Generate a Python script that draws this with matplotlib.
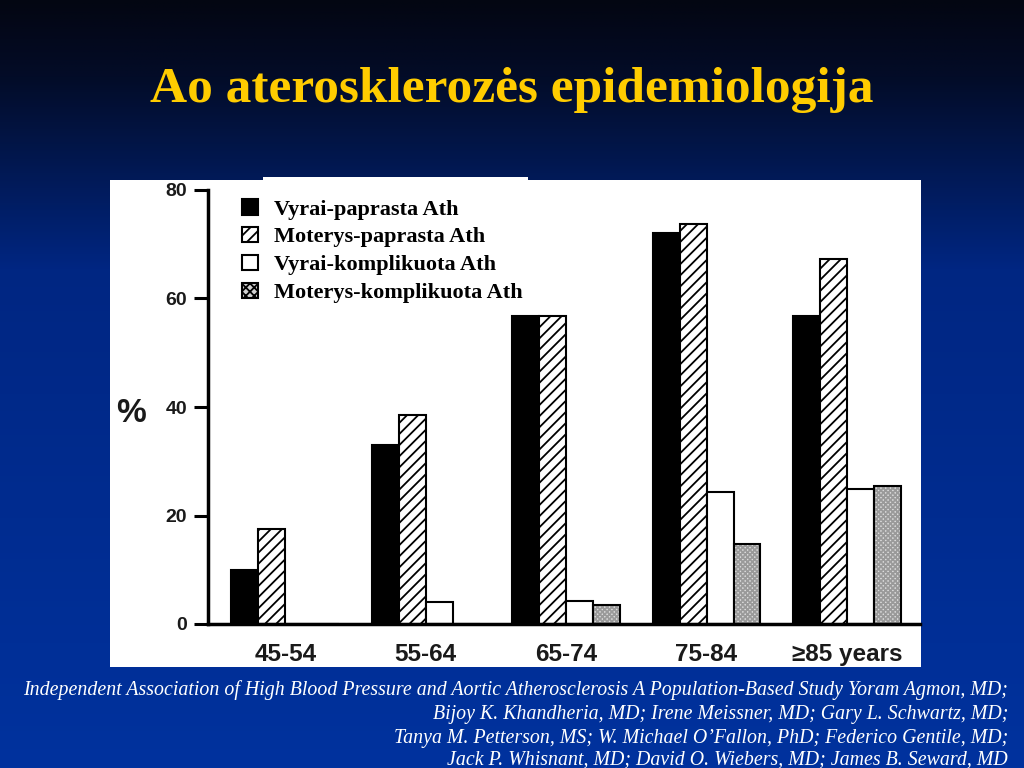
import numpy as np
import matplotlib
matplotlib.use("Agg")
import matplotlib.pyplot as plt
from matplotlib.patches import Rectangle, Patch

# ---- data ----
categories = ["45-54", "55-64", "65-74", "75-84", "\u226585 years"]
men_simple = [10, 33, 56.7, 72, 56.7]
women_simple = [17.5, 38.5, 56.7, 73.8, 67.2]
men_complicated = [0, 4, 4.2, 24.3, 24.8]
women_complicated = [0, 0, 3.5, 14.8, 25.5]
series_labels = ["Vyrai-paprasta Ath", "Moterys-paprasta Ath",
                 "Vyrai-komplikuota Ath", "Moterys-komplikuota Ath"]
yticks = [0, 20, 40, 60, 80]
title = "Ao aterosklerozės epidemiologija"
citation = [
    "Independent Association of High Blood Pressure and Aortic Atherosclerosis A Population-Based Study Yoram Agmon, MD;",
    "Bijoy K. Khandheria, MD; Irene Meissner, MD; Gary L. Schwartz, MD;",
    "Tanya M. Petterson, MS; W. Michael O\u2019Fallon, PhD; Federico Gentile, MD;",
    "Jack P. Whisnant, MD; David O. Wiebers, MD; James B. Seward, MD",
]

W, H = 1024, 768
plt.rcParams['hatch.linewidth'] = 1.3
fig = plt.figure(figsize=(W / 100, H / 100), dpi=100)

# ---- background gradient ----
bg = fig.add_axes([0, 0, 1, 1], zorder=-10)
ys = np.linspace(0, 1, 400)
r = np.interp(ys, [0, 0.1, 0.35, 1], [3, 3, 0, 0])
g = np.interp(ys, [0, 0.1, 0.35, 1], [6, 12, 38, 50])
b = np.interp(ys, [0, 0.1, 0.35, 1], [18, 40, 130, 158])
img = np.stack([r, g, b], axis=1)[:, None, :] / 255.0
img = np.repeat(img, 4, axis=1)
bg.imshow(img, aspect='auto', extent=[0, 1, 0, 1], origin='upper')
bg.set_xlim(0, 1); bg.set_ylim(0, 1)
bg.axis('off')

# white panel
fig.patches.append(Rectangle((110 / W, 1 - 667 / H), (921 - 110) / W, (667 - 180) / H,
                             transform=fig.transFigure, facecolor='white',
                             edgecolor='none', zorder=-5))
fig.patches.append(Rectangle((263 / W, 1 - 200 / H), (528 - 263) / W, (200 - 177) / H,
                             transform=fig.transFigure, facecolor='white',
                             edgecolor='none', zorder=-5))

# ---- title ----
fig.text(512 / W, 1 - 90 / H, title, ha='center', va='center',
         fontsize=37, fontweight='bold', color='#FFCC00', family='Liberation Serif')

# ---- chart ----
ax = fig.add_axes([208 / W, 1 - 624 / H, (920 - 208) / W, (624 - 190) / H])
ax.set_facecolor('none')
x = np.arange(len(categories))
w = 0.192
ax.bar(x - 1.5 * w, men_simple, w, color='black', edgecolor='black', linewidth=1.5)
ax.bar(x - 0.5 * w, women_simple, w, color='white', edgecolor='black',
       linewidth=1.5, hatch='///')
ax.bar(x + 0.5 * w, men_complicated, w, color='white', edgecolor='black', linewidth=1.5)
wc = np.array(women_complicated)
ax.bar(x + 1.5 * w, wc, w, color='#dcdcdc', edgecolor='#9a9a9a', linewidth=0,
       hatch='xxxxxxx')
ax.bar(x + 1.5 * w, wc, w, color='none', edgecolor='black', linewidth=1.5)

ax.set_xlim(-0.55, 4.52)
ax.set_ylim(0, 80)
ax.set_yticks(yticks)
ax.set_xticks(x)
ax.set_xticklabels(categories)
for s in ['top', 'right']:
    ax.spines[s].set_visible(False)
ax.spines['left'].set_linewidth(2.5)
ax.spines['bottom'].set_linewidth(2.5)
ax.tick_params(axis='y', direction='out', length=10, width=2.2, pad=5)
ax.tick_params(axis='x', length=0, pad=14)
for lbl in ax.get_yticklabels():
    lbl.set_fontsize(14); lbl.set_fontweight('bold'); lbl.set_family('Liberation Sans')
    lbl.set_color('#1a1a1a')
for lbl in ax.get_xticklabels():
    lbl.set_fontsize(17.5); lbl.set_fontweight('bold'); lbl.set_family('Liberation Sans')
    lbl.set_color('#1a1a1a')

fig.text(131 / W, 1 - 414 / H, "%", ha='center', va='center', fontsize=24,
         fontweight='bold', family='Liberation Sans', color='#1a1a1a')

# ---- legend ----
handles = [
    Patch(facecolor='black', edgecolor='black', linewidth=1.5),
    Patch(facecolor='white', edgecolor='black', linewidth=1.5, hatch='///'),
    Patch(facecolor='white', edgecolor='black', linewidth=1.5),
    Patch(facecolor='#d0d0d0', edgecolor='black', linewidth=1.5, hatch='xxxx'),
]
leg = fig.legend(handles, series_labels, loc='upper left',
                 bbox_to_anchor=(242 / W, 1 - 199 / H), frameon=False,
                 handlelength=0.7, handleheight=0.7, handletextpad=0.75,
                 labelspacing=0.33, borderpad=0, borderaxespad=0,
                 prop={'family': 'Liberation Serif', 'weight': 'bold', 'size': 16})

# ---- citation ----
ys_c = [690, 714, 738, 760]
for line, yc in zip(citation, ys_c):
    fig.text(1008 / W, 1 - yc / H, line, ha='right', va='center', fontsize=14.3,
             style='italic', color='white', family='Liberation Serif')

fig.savefig('out.png', dpi=100)
